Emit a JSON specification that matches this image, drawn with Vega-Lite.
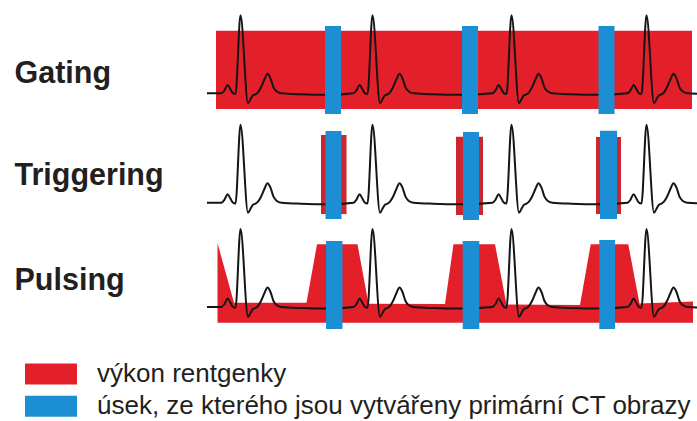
{
  "$schema": "https://vega.github.io/schema/vega-lite/v6.json",
  "padding": {"left": 14, "top": 11, "right": 0, "bottom": 0},
  "background": "white",
  "spacing": 0,
  "config": {"view": {"stroke": null}, "font": "Liberation Sans"},
  "datasets": {
    "ecg": [
      {"t": 207, "v": 0}, {"t": 221.5, "v": 0}, {"t": 224.5, "v": 3}, {"t": 227.5, "v": 8.4}, {"t": 230.5, "v": 4}, {"t": 232.5, "v": 0.5}, {"t": 235.5, "v": -0.8}, {"t": 240.5, "v": 78}, {"t": 248, "v": -10}, {"t": 250.5, "v": -6}, {"t": 253, "v": -2}, {"t": 255.5, "v": -1}, {"t": 258, "v": 1}, {"t": 261, "v": 6}, {"t": 264.5, "v": 14}, {"t": 267.5, "v": 19.5}, {"t": 270.5, "v": 15}, {"t": 273.5, "v": 6}, {"t": 276.5, "v": 2}, {"t": 281.5, "v": 0}, {"t": 300.5, "v": -1}, {"t": 330, "v": -1.5},
      {"t": 353.5, "v": 0}, {"t": 356.5, "v": 3}, {"t": 359.5, "v": 8.4}, {"t": 362.5, "v": 4}, {"t": 364.5, "v": 0.5}, {"t": 367.5, "v": -0.8}, {"t": 372.5, "v": 78}, {"t": 380, "v": -10}, {"t": 382.5, "v": -6}, {"t": 385, "v": -2}, {"t": 387.5, "v": -1}, {"t": 390, "v": 1}, {"t": 393, "v": 6}, {"t": 396.5, "v": 14}, {"t": 399.5, "v": 19.5}, {"t": 402.5, "v": 15}, {"t": 405.5, "v": 6}, {"t": 408.5, "v": 2}, {"t": 413.5, "v": 0}, {"t": 432.5, "v": -1}, {"t": 462, "v": -1.5},
      {"t": 492.5, "v": 0}, {"t": 495.5, "v": 3}, {"t": 498.5, "v": 8.4}, {"t": 501.5, "v": 4}, {"t": 503.5, "v": 0.5}, {"t": 506.5, "v": -0.8}, {"t": 511.5, "v": 78}, {"t": 519, "v": -10}, {"t": 521.5, "v": -6}, {"t": 524, "v": -2}, {"t": 526.5, "v": -1}, {"t": 529, "v": 1}, {"t": 532, "v": 6}, {"t": 535.5, "v": 14}, {"t": 538.5, "v": 19.5}, {"t": 541.5, "v": 15}, {"t": 544.5, "v": 6}, {"t": 547.5, "v": 2}, {"t": 552.5, "v": 0}, {"t": 571.5, "v": -1}, {"t": 600, "v": -1.5},
      {"t": 627.5, "v": 0}, {"t": 630.5, "v": 3}, {"t": 633.5, "v": 8.4}, {"t": 636.5, "v": 4}, {"t": 638.5, "v": 0.5}, {"t": 641.5, "v": -0.8}, {"t": 646.5, "v": 78}, {"t": 654, "v": -10}, {"t": 656.5, "v": -6}, {"t": 659, "v": -2}, {"t": 661.5, "v": -1}, {"t": 664, "v": 1}, {"t": 667, "v": 6}, {"t": 670.5, "v": 14}, {"t": 673.5, "v": 19.5}, {"t": 676.5, "v": 15}, {"t": 679.5, "v": 6}, {"t": 682.5, "v": 2}, {"t": 687.5, "v": 0}, {"t": 697, "v": -0.5}
    ],
    "bars": [
      {"mode": "Gating", "kind": "power", "t": 216, "t2": 692, "v": -15.7, "v2": 62.6},
      {"mode": "Gating", "kind": "recon", "t": 325, "t2": 341, "v": -20.7, "v2": 67.3},
      {"mode": "Gating", "kind": "recon", "t": 462, "t2": 478, "v": -20.7, "v2": 67.3},
      {"mode": "Gating", "kind": "recon", "t": 598.5, "t2": 614.5, "v": -20.7, "v2": 67.3},
      {"mode": "Triggering", "kind": "power", "t": 321, "t2": 346.5, "v": -11.3, "v2": 67.7},
      {"mode": "Triggering", "kind": "power", "t": 456, "t2": 483, "v": -12.3, "v2": 66},
      {"mode": "Triggering", "kind": "power", "t": 596, "t2": 621, "v": -11.3, "v2": 65.7},
      {"mode": "Triggering", "kind": "recon", "t": 325.5, "t2": 341.5, "v": -16.3, "v2": 71.7},
      {"mode": "Triggering", "kind": "recon", "t": 463, "t2": 479, "v": -17.3, "v2": 70.7},
      {"mode": "Triggering", "kind": "recon", "t": 600, "t2": 617, "v": -16.3, "v2": 72},
      {"mode": "Pulsing", "kind": "recon", "t": 326, "t2": 342.5, "v": -22, "v2": 66},
      {"mode": "Pulsing", "kind": "recon", "t": 462.7, "t2": 479.3, "v": -22, "v2": 66},
      {"mode": "Pulsing", "kind": "recon", "t": 599.3, "t2": 615, "v": -22, "v2": 67}
    ],
    "pulse": [
      {"t": 217.5, "v": 64}, {"t": 234, "v": 4.3}, {"t": 306.5, "v": 4.3}, {"t": 317, "v": 62.7}, {"t": 357.5, "v": 62.7}, {"t": 368.5, "v": 3.3},
      {"t": 445, "v": 3}, {"t": 453.5, "v": 62.7}, {"t": 495, "v": 62.7}, {"t": 506.5, "v": 2.5},
      {"t": 580, "v": 2}, {"t": 590.7, "v": 62.7}, {"t": 628.3, "v": 62.7}, {"t": 639.5, "v": 3.5}, {"t": 693, "v": 5.5}
    ]
  },
  "vconcat": [
    {
      "width": 492, "height": 105,
      "encoding": {
        "x": {"field": "t", "type": "quantitative", "scale": {"domain": [205, 697], "nice": false, "zero": false}, "axis": null},
        "y": {"field": "v", "type": "quantitative", "scale": {"domain": [-24.7, 80.3], "nice": false, "zero": false},
              "axis": {"title": "Gating", "titleAngle": 0, "titleAlign": "left", "titleBaseline": "alphabetic", "titleX": -191, "titleY": 69.3, "titleFont": "Liberation Sans", "titleFontSize": 30.5, "titleFontWeight": "bold", "titleColor": "#231f20", "labels": false, "ticks": false, "domain": false, "grid": false}}
      },
      "layer": [
        {"data": {"name": "bars"}, "transform": [{"filter": "datum.mode == 'Gating' && datum.kind == 'power'"}],
         "mark": {"type": "rect"},
         "encoding": {"x2": {"field": "t2"}, "y2": {"field": "v2"},
           "color": {"field": "kind", "type": "nominal", "scale": {"domain": ["power", "recon"], "range": ["#e3202a", "#1c8ed4"]},
             "legend": {"orient": "none", "legendX": -180, "legendY": 348, "title": null, "symbolType": "M-1,-0.404H1V0.404H-1Z", "symbolSize": 2704, "symbolStrokeWidth": 0, "symbolOpacity": 1, "labelFont": "Liberation Sans", "labelFontSize": 26, "labelColor": "#231f20", "labelLimit": 1000, "labelOffset": 20, "rowPadding": 6.2, "clipHeight": 26,
               "labelExpr": "datum.value == 'power' ? 'výkon rentgenky' : 'úsek, ze kterého jsou vytvářeny primární CT obrazy'"}}}},
        {"data": {"name": "ecg"}, "mark": {"type": "line", "interpolate": "monotone", "color": "#151515", "strokeWidth": 2}},
        {"data": {"name": "bars"}, "transform": [{"filter": "datum.mode == 'Gating' && datum.kind == 'recon'"}],
         "mark": {"type": "rect"},
         "encoding": {"x2": {"field": "t2"}, "y2": {"field": "v2"}, "color": {"field": "kind", "type": "nominal"}}}
      ]
    },
    {
      "width": 492, "height": 107,
      "encoding": {
        "x": {"field": "t", "type": "quantitative", "scale": {"domain": [205, 697], "nice": false, "zero": false}, "axis": null},
        "y": {"field": "v", "type": "quantitative", "scale": {"domain": [-22.3, 84.7], "nice": false, "zero": false},
              "axis": {"title": "Triggering", "titleAngle": 0, "titleAlign": "left", "titleBaseline": "alphabetic", "titleX": -191, "titleY": 66.7, "titleFont": "Liberation Sans", "titleFontSize": 30.5, "titleFontWeight": "bold", "titleColor": "#231f20", "labels": false, "ticks": false, "domain": false, "grid": false}}
      },
      "layer": [
        {"data": {"name": "bars"}, "transform": [{"filter": "datum.mode == 'Triggering' && datum.kind == 'power'"}],
         "mark": {"type": "rect", "color": "#cc272e"},
         "encoding": {"x2": {"field": "t2"}, "y2": {"field": "v2"}}},
        {"data": {"name": "ecg"}, "mark": {"type": "line", "interpolate": "monotone", "color": "#151515", "strokeWidth": 2}},
        {"data": {"name": "bars"}, "transform": [{"filter": "datum.mode == 'Triggering' && datum.kind == 'recon'"}],
         "mark": {"type": "rect"},
         "encoding": {"x2": {"field": "t2"}, "y2": {"field": "v2"}, "color": {"field": "kind", "type": "nominal"}}}
      ]
    },
    {
      "width": 492, "height": 108,
      "encoding": {
        "x": {"field": "t", "type": "quantitative", "scale": {"domain": [205, 697], "nice": false, "zero": false}, "axis": null},
        "y": {"field": "v", "type": "quantitative", "scale": {"domain": [-26, 82], "nice": false, "zero": false},
              "axis": {"title": "Pulsing", "titleAngle": 0, "titleAlign": "left", "titleBaseline": "alphabetic", "titleX": -191, "titleY": 64, "titleFont": "Liberation Sans", "titleFontSize": 30.5, "titleFontWeight": "bold", "titleColor": "#231f20", "labels": false, "ticks": false, "domain": false, "grid": false}}
      },
      "layer": [
        {"data": {"name": "pulse"},
         "mark": {"type": "area", "color": "#e3202a", "interpolate": "linear"},
         "encoding": {"y2": {"datum": -15.7}}},
        {"data": {"name": "ecg"}, "mark": {"type": "line", "interpolate": "monotone", "color": "#151515", "strokeWidth": 2}},
        {"data": {"name": "bars"}, "transform": [{"filter": "datum.mode == 'Pulsing' && datum.kind == 'recon'"}],
         "mark": {"type": "rect"},
         "encoding": {"x2": {"field": "t2"}, "y2": {"field": "v2"}, "color": {"field": "kind", "type": "nominal"}}}
      ]
    }
  ]
}
